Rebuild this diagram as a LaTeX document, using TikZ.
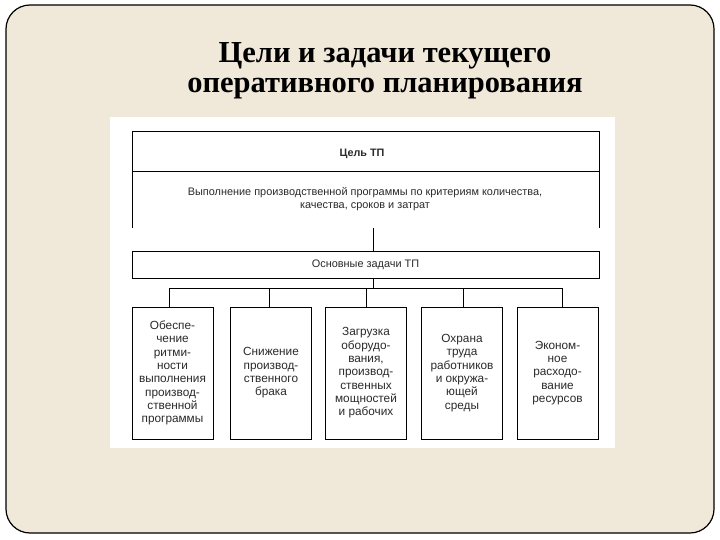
\documentclass[tikz,border=0pt]{standalone}
\usepackage{fontspec}
\setmainfont{Liberation Serif}
\newfontfamily\diagfont{Liberation Sans}
\definecolor{beige}{HTML}{F0E8D8}
\definecolor{txt}{HTML}{2A2A2A}
\begin{document}
\begin{tikzpicture}[x=1pt,y=-1pt,
  every node/.style={inner sep=0pt, outer sep=0pt},
  ln/.style={draw=black, line width=0.9pt},
  dtext/.style={font=\diagfont\fontsize{10.9}{13.2}\selectfont, text=txt, align=center},
  taskbox/.style={draw=black, line width=0.9pt, minimum width=81pt, minimum height=132pt,
    font=\diagfont\fontsize{11.8}{13.3}\selectfont, text=txt, align=center}
]
\useasboundingbox (0,0) rectangle (720,540);
\fill[white] (0,0) rectangle (720,540);
\draw[fill=beige, line width=1.2pt, rounded corners=24pt] (6,5) rectangle (714,533);
\fill[white] (110,117) rectangle (615,448);

% title
\node[font=\bfseries\fontsize{30.5}{30}\selectfont, align=center] (title) at (385,71)
  {Цели и задачи текущего\\оперативного планирования};

% goal box (open at the bottom)
\node[minimum width=467pt, minimum height=97pt, anchor=north west] (goal) at (132,131) {};
\draw[ln] (goal.south west) -- (goal.north west) -- (goal.north east) -- (goal.south east);
\draw[ln] ([yshift=-40]goal.north west) -- ([yshift=-40]goal.north east);
\node[dtext, font=\diagfont\bfseries\fontsize{10.8}{13.2}\selectfont] (goalt) at (362,154) {Цель ТП};
\node[dtext] (goald) at (365,199) {Выполнение производственной программы по критериям количества,\\качества, сроков и затрат};

% main tasks
\node[draw=black, line width=0.9pt, minimum width=467pt, minimum height=27pt, dtext] (tasks) at (365.5,264.5) {Основные задачи ТП};
\draw[ln] ([xshift=7.5]goal.south) -- ([xshift=7.5]tasks.north);

% task boxes
\node[taskbox] (b1) at (172.5,373) {Обеспе-\\чение\\ритми-\\ности\\выполнения\\производ-\\ственной\\программы};
\node[taskbox] (b2) at (271,373) {Снижение\\производ-\\ственного\\брака};
\node[taskbox] (b3) at (366,373) {Загрузка\\оборудо-\\вания,\\производ-\\ственных\\мощностей\\и рабочих};
\node[taskbox] (b4) at (462,373) {Охрана\\труда\\работников\\и окружа-\\ющей\\среды};
\node[taskbox] (b5) at (557.5,373) {Эконом-\\ное\\расходо-\\вание\\ресурсов};

\draw[ln] ([xshift=7.5]tasks.south) -- ++(0,10);
\draw[ln] ([xshift=-3.5]b1.north) -- ++(0,-19) -| ([xshift=4.5]b5.north);
\draw[ln] ([xshift=-2]b2.north) -- ++(0,-19);
\draw[ln] (b3.north) -- ++(0,-19);
\draw[ln] ([xshift=1]b4.north) -- ++(0,-19);
\end{tikzpicture}
\end{document}
